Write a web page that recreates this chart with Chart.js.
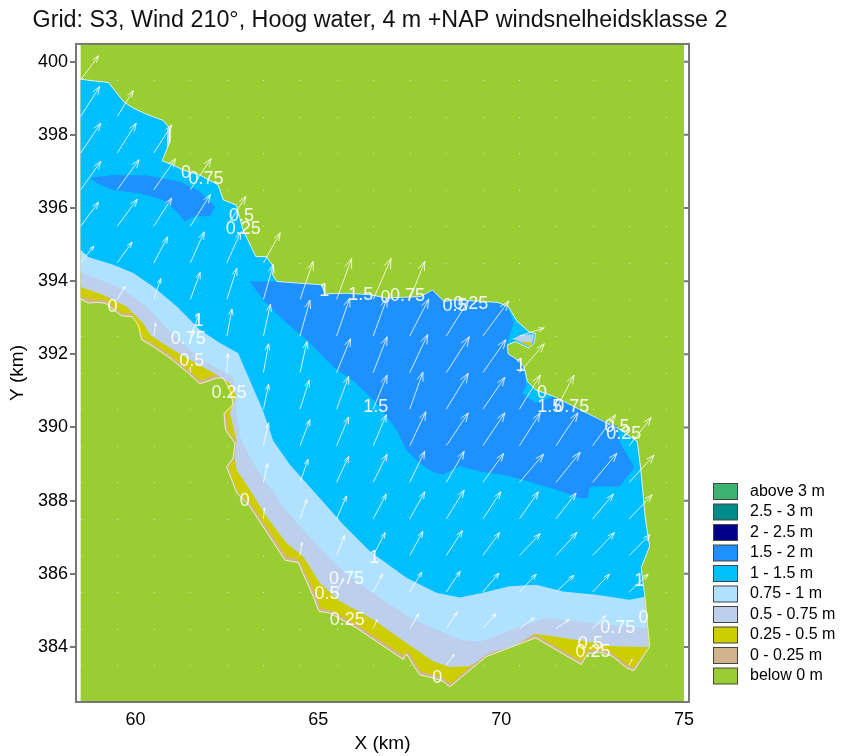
<!DOCTYPE html>
<html>
<head>
<meta charset="utf-8">
<title>Grid S3</title>
<script src="https://cdn.jsdelivr.net/npm/chart.js@4"></script>
<style>
    html, body { margin: 0; padding: 0; background: #fff; }
    canvas { display: block; }
</style>
</head>
<body>
<canvas id="chart" width="842" height="756"></canvas>
<script>
const FONT = '"Liberation Sans", Arial, sans-serif';

// legend, top to bottom
const legendLabels = ['above 3 m', '2.5 - 3 m', '2 - 2.5 m', '1.5 - 2 m', '1 - 1.5 m', '0.75 - 1 m', '0.5 - 0.75 m', '0.25 - 0.5 m', '0 - 0.25 m', 'below 0 m'];
const legendColors = ['#3CB371', '#008B8B', '#00008B', '#1E90FF', '#00BFFF', '#B0E2FF', '#BCD0EE', '#CDCD00', '#D2B48C', '#9ACD32'];

// land fills the whole map
const landArea = [[58.5, 382.3], [75, 382.3], [75, 400.7], [58.5, 400.7]];

// shoreline in km, west to east along the north side and down the east side
const northShore = [
    [58.5, 399.52], [58.89, 399.47], [59.26, 399.43], [59.67, 398.91], [59.94, 398.73], [60.31, 398.56], [60.76, 398.39],
    [60.94, 398.18], [60.94, 397.81], [60.73, 397.29], [61.02, 397.18], [61.3, 397.04], [61.76, 396.9], [62.26, 396.63],
    [62.4, 396.22], [62.76, 396.08], [62.94, 395.4], [63.07, 395.13], [63.29, 394.67], [63.58, 394.67], [63.77, 394.4],
    [63.75, 394.17], [63.87, 393.99], [65.09, 393.9], [65.18, 393.65], [65.77, 393.67], [66.41, 393.63], [66.86, 393.54],
    [67.8, 393.58], [68.12, 393.76], [68.44, 393.44], [68.7, 393.49], [69.9, 393.42], [70.19, 393.31], [70.44, 392.9],
    [70.76, 392.62], [70.94, 392.56], [70.9, 392.31], [70.76, 392.17], [70.4, 392.35], [70.17, 392.26], [70.19, 392.01],
    [70.44, 391.85], [70.62, 391.67], [70.72, 391.26], [70.94, 391.03], [71.44, 390.85], [72.35, 390.39], [73.26, 389.94],
    [73.72, 389.62], [73.81, 388.93], [73.87, 388.3], [73.94, 387.53], [74.06, 386.75], [73.83, 386.17]
];
// rest of the shore, east to west
const southShore = [
    [73.94, 385.29], [74.06, 384.01], [73.63, 383.35], [73.43, 383.43], [73.05, 383.74], [72.77, 383.85], [72.37, 383.82],
    [72.19, 383.52], [70.94, 384.25], [69.6, 383.74], [68.59, 382.91], [68.41, 383.06], [68.14, 383.15], [67.77, 383.24],
    [67.59, 383.52], [67.41, 383.81], [67.32, 383.66], [66.04, 384.52], [65.31, 384.93], [65.02, 384.97], [64.86, 385.38],
    [64.45, 386.31], [64.09, 386.37], [63.13, 387.84], [62.77, 388.21], [62.63, 388.57], [62.49, 388.93], [62.67, 389.16],
    [62.72, 389.57], [62.46, 389.94], [62.42, 390.39], [62.67, 390.62], [62.61, 390.98], [62.4, 391.35], [62.22, 391.35],
    [61.76, 391.19], [61.44, 391.49], [60.94, 391.9], [60.49, 392.21], [60.17, 392.4], [60.08, 392.81], [59.9, 393.03],
    [59.62, 393.05], [59.17, 393.4], [58.94, 393.42], [58.71, 393.4], [58.5, 393.51]
];

// southern edge of each depth band, east to west
const edge025 = [
    [74.06, 384.01], [73.62, 383.44], [73.43, 383.52], [73.05, 383.82], [72.77, 383.93], [72.37, 383.9], [72.19, 383.6],
    [70.94, 384.34], [69.61, 383.85], [68.63, 383.0], [68.44, 383.13], [68.16, 383.24], [67.8, 383.32], [67.44, 383.89],
    [67.33, 383.76], [66.05, 384.61], [65.34, 385.0], [65.07, 385.05], [64.93, 385.43], [64.46, 386.39], [64.13, 386.47],
    [63.18, 387.88], [62.79, 388.24], [62.66, 388.57], [62.55, 388.93], [62.72, 389.14], [62.77, 389.58], [62.53, 389.94],
    [62.47, 390.43], [62.66, 390.68], [62.42, 391.41], [62.2, 391.44], [61.76, 391.28], [61.43, 391.58], [60.94, 391.99],
    [60.48, 392.29], [60.15, 392.48], [59.9, 393.1], [59.6, 393.13], [59.17, 393.49], [58.91, 393.49], [58.5, 393.57]
];
const edge050 = [
    [74.04, 384.0], [73.05, 384.02], [72.05, 384.2], [70.92, 384.36], [70.32, 384.02], [69.69, 383.84], [69.14, 383.47],
    [68.59, 383.45], [68.14, 383.61], [67.41, 384.11], [66.5, 384.75], [65.59, 385.25], [65.04, 385.75], [64.58, 386.48],
    [64.13, 386.84], [63.58, 387.57], [63.13, 388.3], [62.76, 388.85], [62.72, 389.21], [62.76, 389.66], [62.58, 390.39],
    [62.75, 390.89], [62.58, 391.21], [62.22, 391.44], [61.58, 391.8], [61.03, 392.12], [60.4, 392.53], [60.21, 392.85],
    [59.75, 393.31], [59.11, 393.63], [58.5, 393.84]
];
const edge075 = [
    [73.98, 384.52], [72.87, 384.61], [72.05, 384.7], [71.23, 384.79], [70.5, 384.56], [69.87, 384.29], [69.41, 384.15],
    [68.87, 384.2], [68.23, 384.48], [67.5, 384.8], [66.68, 385.35], [65.77, 385.98], [64.95, 386.8], [64.13, 387.72],
    [63.49, 388.62], [63.13, 389.17], [62.86, 389.75], [62.76, 390.39], [62.76, 390.94], [62.67, 391.39], [62.13, 391.67],
    [61.49, 392.12], [60.85, 392.72], [60.31, 393.31], [59.67, 393.76], [59.03, 394.04], [58.5, 394.24]
];
const edge100 = [
    [73.94, 385.37], [73.51, 385.29], [72.6, 385.43], [71.69, 385.52], [70.96, 385.7], [70.23, 385.66], [69.5, 385.48],
    [68.87, 385.35], [68.23, 385.48], [67.41, 385.89], [66.41, 386.62], [65.68, 387.35], [64.95, 388.17], [64.22, 388.99],
    [63.77, 389.63], [63.49, 390.45], [63.04, 391.49], [62.81, 392.03], [62.31, 392.31], [61.76, 392.67], [61.13, 393.31],
    [60.49, 393.85], [59.94, 394.22], [59.39, 394.45], [58.71, 394.66], [58.5, 394.86]
];

// 1.5 - 2 m patches
const deepWest = [
    [58.76, 396.83], [59.39, 396.9], [60.31, 396.89], [61.22, 396.72], [61.76, 396.45], [62.17, 396.04], [62.04, 395.78],
    [61.58, 395.77], [61.35, 395.63], [61.13, 395.9], [60.76, 396.22], [60.12, 396.4], [59.39, 396.49], [58.94, 396.68]
];
const deepMain = [
    [63.13, 393.99], [63.76, 393.99], [63.87, 393.99], [65.09, 393.9], [65.18, 393.65], [65.77, 393.67], [66.41, 393.63],
    [66.86, 393.54], [67.8, 393.58], [68.12, 393.76], [68.44, 393.44], [68.7, 393.49], [69.9, 393.42], [70.17, 393.31],
    [70.34, 392.86], [70.19, 392.4], [70.17, 392.26], [70.19, 392.01], [70.44, 391.85], [70.62, 391.67], [70.69, 391.12],
    [70.58, 390.94], [70.94, 390.67], [71.44, 390.85], [72.35, 390.39], [73.17, 390.03], [73.26, 389.57], [73.63, 388.94],
    [73.6, 388.85], [73.23, 388.39], [72.42, 388.39], [72.37, 388.07], [72.14, 388.07], [71.51, 388.3], [70.78, 388.52],
    [70.05, 388.71], [69.44, 388.79], [68.87, 388.95], [68.4, 388.71], [68.13, 388.79], [67.8, 389.0], [67.41, 389.39],
    [67.14, 389.94], [66.59, 390.67], [66.04, 391.21], [65.4, 391.67], [64.68, 392.4], [64.04, 392.94], [63.49, 393.49]
];

// small pocket in the inlet near x = 70.7 and the pale sliver on the north shore
const inletPale = [[70.31, 392.42], [70.53, 392.53], [70.9, 392.55], [70.86, 392.32], [70.76, 392.21], [70.44, 392.38]];
const inletYellow = [[70.53, 392.35], [70.85, 392.32], [70.79, 392.2]];
const sliverPale = [[60.94, 398.18], [60.94, 397.81], [60.84, 397.58], [60.86, 397.9], [60.88, 398.2]];

// wind arrows: one row per gridY, one value per gridX, length in km on the map; a missing value is a dot
const gridX = [58.5, 59.5, 60.5, 61.5, 62.5, 63.5, 64.5, 65.5, 66.5, 67.5, 68.5, 69.5, 70.5, 71.5, 72.5, 73.5, 74.5];
const gridY = [399.5, 398.5, 397.5, 396.5, 395.5, 394.5, 393.5, 392.5, 391.5, 390.5, 389.5, 388.5, 387.5, 386.5, 385.5, 384.5, 383.5];
const windU = [
    [.49],
    [.52, .44],
    [.55, .52, .49],
    [.55, .6, .6, .57],
    [.49, .55, .49, .55, .52],
    [.36, .41, .38, .38, .38, .46],
    [0, .22, .19, .27, .27, .27, .36, .41, .49, .41],
    [0, 0, .05, .25, .14, .19, .27, .36, .38, .52, .6, .71, .68],
    [0, 0, 0, 0, .03, .14, .19, .38, .38, .49, .63, .63, .68],
    [0, 0, 0, 0, 0, .14, .25, .33, .38, .36, .6, .6, .57, .49],
    [0, 0, 0, 0, 0, .14, .27, .33, .36, .44, .6, .6, .57, .6, .63, .6],
    [0, 0, 0, 0, 0, .11, .22, .33, .38, .41, .49, .57, .66, .66, .66, .68],
    [0, 0, 0, 0, 0, .03, .19, .27, .36, .41, .49, .49, .52, .55, .57, .63],
    [0, 0, 0, 0, 0, 0, .05, .22, .33, .36, .44, .46, .57, .57, .6, .57],
    [0, 0, 0, 0, 0, 0, 0, .19, .25, .33, .38, .44, .46, .49, .46, .52],
    [0, 0, 0, 0, 0, 0, 0, 0, .11, .25, .3, .36, .41, .36, .36],
    [0, 0, 0, 0, 0, 0, 0, 0, 0, 0, .22, 0, 0, 0, 0, .08]
];
const windV = [
    [.66],
    [.82, .71],
    [.82, .82, .77],
    [.77, .82, .85, .85],
    [.66, .74, .77, .87, .82],
    [.46, .57, .71, .85, .85, .82],
    [0, .36, .57, .74, .85, .96, 1.04, 1.12, 1.12, 1.04],
    [0, 0, .36, .6, .74, .87, .98, 1.04, 1.04, 1.01, .96, .96, .22],
    [0, 0, 0, .14, .52, .79, .85, .93, .98, 1.04, .98, .9, .79],
    [0, 0, 0, 0, 0, .68, .79, .9, .93, 1.01, .98, .87, .93, .93],
    [0, 0, 0, 0, 0, .63, .71, .79, .85, .93, .9, .9, .9, .9, .85, .77],
    [0, 0, 0, 0, 0, .52, .63, .71, .77, .85, .85, .79, .77, .82, .79, .74],
    [0, 0, 0, 0, 0, .3, .55, .63, .68, .74, .79, .74, .74, .71, .68, .66],
    [0, 0, 0, 0, 0, 0, .36, .55, .63, .66, .68, .63, .6, .63, .63, .57],
    [0, 0, 0, 0, 0, 0, 0, .38, .49, .55, .57, .52, .49, .46, .49, .49],
    [0, 0, 0, 0, 0, 0, 0, 0, .25, .41, .46, .41, .3, .25, .36],
    [0, 0, 0, 0, 0, 0, 0, 0, 0, 0, .3, 0, 0, 0, 0, .16]
];

// contour labels
const contourText = ['0', '0.75', '0.5', '0.25', '1', '1.5', '0', '0.75', '0.5', '0.25', '1', '0', '1.5', '0.75', '0.5', '0.25', '1.5', '1', '0.75', '0.5', '0.25', '0', '0', '1', '0', '0.75', '0.5', '0.25', '0', '0.75', '1', '0.5', '0.25'];
const contourX = [61.38, 61.93, 62.9, 62.95, 65.16, 66.16, 66.84, 67.44, 68.74, 69.17, 70.53, 71.12, 71.33, 71.93, 73.17, 73.35, 66.57, 66.53, 65.77, 65.24, 65.79, 68.25, 62.99, 73.78, 73.89, 73.19, 72.44, 72.51, 59.37, 61.44, 61.72, 61.54, 62.56];
const contourY = [396.96, 396.79, 395.77, 395.42, 393.72, 393.61, 393.54, 393.58, 393.33, 393.38, 391.67, 390.94, 390.57, 390.57, 390.01, 389.82, 390.56, 386.43, 385.86, 385.46, 384.73, 383.15, 388, 385.79, 384.79, 384.52, 384.09, 383.85, 393.28, 392.42, 392.9, 391.82, 390.94];

const xTicks = [60, 65, 70, 75];
const yTicks = [384, 386, 388, 390, 392, 394, 396, 398, 400];

function toPoints(list) {
    return list.map(p => ({ x: p[0], y: p[1] }));
}

function band(points, color) {
    return { data: toPoints(points), showLine: true, fill: 'shape', backgroundColor: color, borderWidth: 0, pointRadius: 0 };
}

// each band runs along the north shore and back along its own southern edge
const bandShape = edge => northShore.concat(edge);

const shoreLine = {
    data: toPoints(northShore.concat(southShore)),
    showLine: true, fill: false, borderColor: 'rgba(255,255,255,0.75)', borderWidth: 1, pointRadius: 0
};

// first dataset is drawn last
const datasets = [
    shoreLine,
    band(sliverPale, '#B0E2FF'),
    band(inletYellow, '#CDCD00'),
    band(inletPale, '#BCD0EE'),
    band(deepMain, '#1E90FF'),
    band(deepWest, '#1E90FF'),
    band(bandShape(edge100), '#00BFFF'),
    band(bandShape(edge075), '#B0E2FF'),
    band(bandShape(edge050), '#BCD0EE'),
    band(bandShape(edge025), '#CDCD00'),
    band(northShore.concat(southShore), '#D2B48C'),
    band(landArea, '#9ACD32')
];

const windPlugin = {
    id: 'wind',
    afterDatasetsDraw(chart) {
        const { ctx, scales: { x, y }, chartArea } = chart;
        ctx.save();
        ctx.beginPath();
        ctx.rect(chartArea.left, chartArea.top, chartArea.width, chartArea.height);
        ctx.clip();
        ctx.lineWidth = 1;
        ctx.strokeStyle = 'rgba(255,255,255,0.8)';
        ctx.fillStyle = 'rgba(255,255,255,0.6)';
        gridY.forEach((gy, r) => {
            gridX.forEach((gx, c) => {
                const x0 = x.getPixelForValue(gx);
                const y0 = y.getPixelForValue(gy);
                const u = windU[r][c] || 0;
                const v = windV[r][c] || 0;
                if (!u && !v) {
                    ctx.fillRect(Math.round(x0), Math.round(y0), 1, 1);
                    return;
                }
                const x1 = x.getPixelForValue(gx + u);
                const y1 = y.getPixelForValue(gy + v);
                const angle = Math.atan2(y1 - y0, x1 - x0);
                const barb = Math.hypot(x1 - x0, y1 - y0) * 0.24;
                ctx.beginPath();
                ctx.moveTo(x0, y0);
                ctx.lineTo(x1, y1);
                ctx.moveTo(x1 - barb * Math.cos(angle - 0.35), y1 - barb * Math.sin(angle - 0.35));
                ctx.lineTo(x1, y1);
                ctx.lineTo(x1 - barb * Math.cos(angle + 0.35), y1 - barb * Math.sin(angle + 0.35));
                ctx.stroke();
            });
        });
        ctx.fillStyle = 'rgba(255,255,255,0.92)';
        ctx.font = '18px ' + FONT;
        ctx.textAlign = 'center';
        ctx.textBaseline = 'middle';
        contourText.forEach((t, i) => {
            ctx.fillText(t, x.getPixelForValue(contourX[i]), y.getPixelForValue(contourY[i]));
        });
        ctx.restore();
    }
};

const framePlugin = {
    id: 'frame',
    afterDraw(chart) {
        const { ctx, chartArea: a, scales: { y } } = chart;
        ctx.save();
        ctx.strokeStyle = '#777';
        ctx.lineWidth = 2;
        ctx.strokeRect(a.left, a.top, a.width, a.height);
        // inner ticks on the right side
        ctx.beginPath();
        y.ticks.forEach(t => {
            const py = y.getPixelForValue(t.value);
            ctx.moveTo(a.right - 5, py);
            ctx.lineTo(a.right, py);
        });
        ctx.stroke();

        ctx.font = '16px ' + FONT;
        ctx.textAlign = 'left';
        ctx.textBaseline = 'middle';
        legendLabels.forEach((label, i) => {
            const top = 483.5 + i * 20.5;
            ctx.fillStyle = legendColors[i];
            ctx.fillRect(713.5, top, 24, 16);
            ctx.strokeStyle = '#444';
            ctx.lineWidth = 1;
            ctx.strokeRect(713.5, top, 24, 16);
            ctx.fillStyle = '#000';
            ctx.fillText(label, 750, top + 8);
        });
        ctx.restore();
    }
};

new Chart(document.getElementById('chart'), {
    type: 'scatter',
    data: { datasets },
    plugins: [windPlugin, framePlugin],
    options: {
        responsive: false,
        animation: false,
        events: [],
        layout: { padding: { left: 0, right: 82, top: 0, bottom: 0 } },
        plugins: {
            legend: { display: false },
            tooltip: { enabled: false },
            title: {
                display: true,
                text: 'Grid: S3, Wind 210°, Hoog water, 4 m +NAP windsnelheidsklasse 2',
                color: '#111',
                font: { family: FONT, size: 23.3, weight: 'normal', lineHeight: 1.2 },
                padding: { top: 7, bottom: 9 }
            }
        },
        scales: {
            x: {
                type: 'linear',
                min: 58.373,
                max: 75.137,
                afterBuildTicks: s => { s.ticks = xTicks.map(value => ({ value })); },
                afterFit: s => { s.height = 54; },
                border: { display: false },
                grid: { display: false },
                ticks: { color: '#000', font: { family: FONT, size: 18 }, padding: -1, maxRotation: 0 },
                title: { display: true, text: 'X (km)', color: '#000', font: { family: FONT, size: 19 }, padding: { top: 0, bottom: 1 } }
            },
            y: {
                type: 'linear',
                min: 382.496,
                max: 400.484,
                afterBuildTicks: s => { s.ticks = yTicks.map(value => ({ value })); },
                afterFit: s => { s.width = 76; },
                border: { display: false },
                grid: { drawOnChartArea: false, drawTicks: true, tickLength: 6, color: '#777', lineWidth: 2 },
                ticks: { color: '#000', font: { family: FONT, size: 18 }, padding: 2 },
                title: { display: true, text: 'Y (km)', color: '#000', font: { family: FONT, size: 19 }, padding: { top: 6, bottom: 0 } }
            },
            // keeps the space right of the map, legend is drawn there
            spacer: {
                type: 'linear',
                position: 'right',
                display: true,
                min: 0,
                max: 1,
                afterFit: s => { s.width = 71; },
                border: { display: false },
                grid: { display: false },
                ticks: { display: false }
            }
        }
    }
});
</script>
</body>
</html>
